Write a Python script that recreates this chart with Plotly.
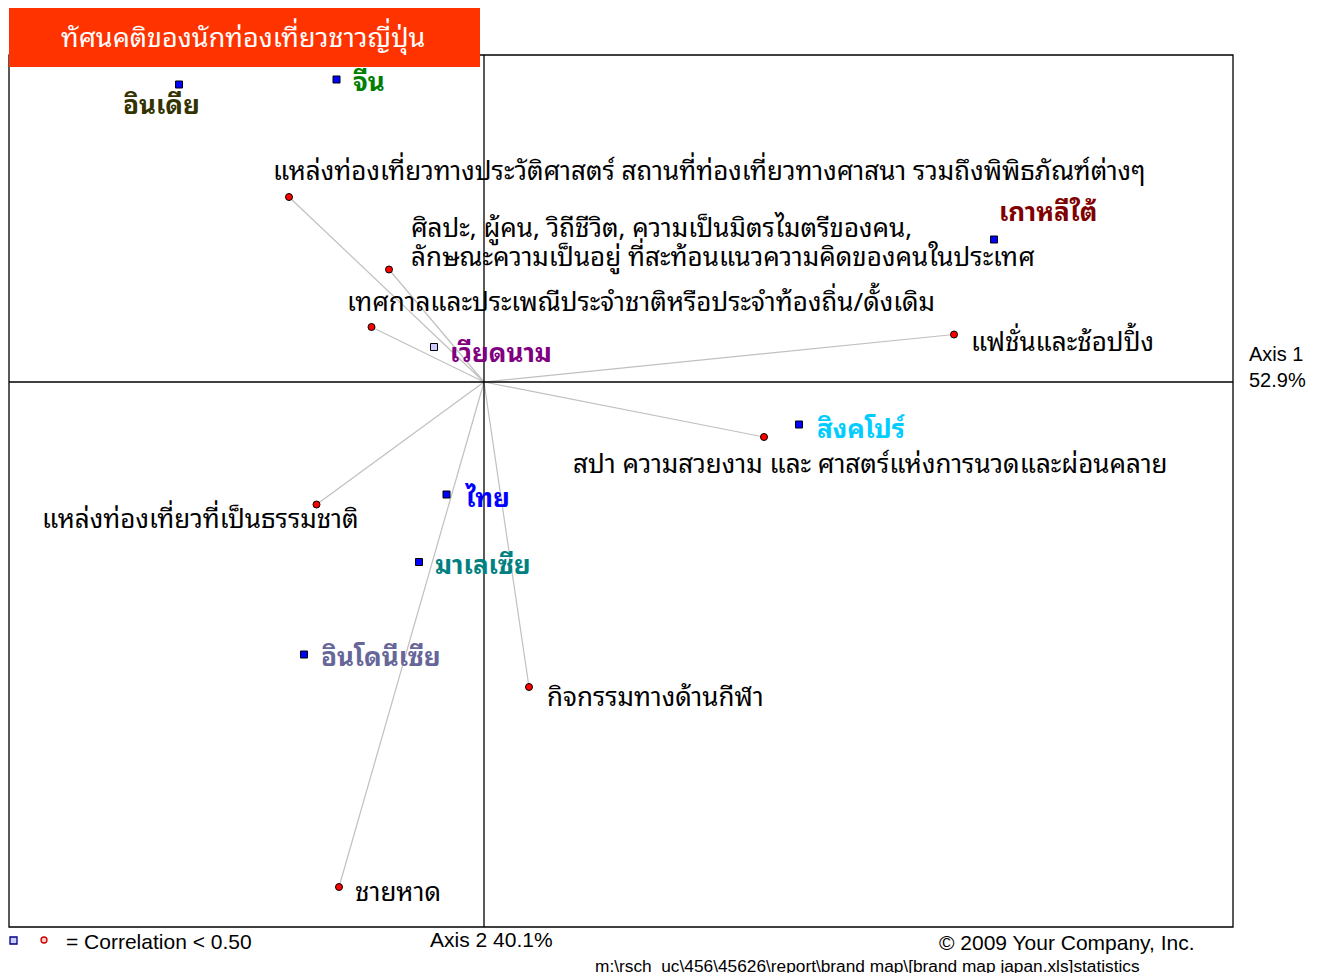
import plotly.graph_objects as go

# attributes (red dots), coordinates on the two axes
attr_names = [
    "แหล่งท่องเที่ยวทางประวัติศาสตร์ สถานที่ท่องเที่ยวทางศาสนา รวมถึงพิพิธภัณฑ์ต่างๆ",
    "ศิลปะ, ผู้คน, วิถีชีวิต, ความเป็นมิตรไมตรีของคน,<br>ลักษณะความเป็นอยู่ ที่สะท้อนแนวความคิดของคนในประเทศ",
    "เทศกาลและประเพณีประจำชาติหรือประจำท้องถิ่น/ดั้งเดิม",
    "แฟชั่นและช้อปปิ้ง",
    "สปา ความสวยงาม และ ศาสตร์แห่งการนวดและผ่อนคลาย",
    "แหล่งท่องเที่ยวที่เป็นธรรมชาติ",
    "กิจกรรมทางด้านกีฬา",
    "ชายหาด",
]
attr_x = [-0.78, -0.38, -0.45, 1.88, 1.12, -0.67, 0.18, -0.58]
attr_y = [0.74, 0.45, 0.22, 0.19, -0.22, -0.49, -1.22, -2.02]

# countries (blue squares)
country_names = ["อินเดีย", "จีน", "เกาหลีใต้", "เวียดนาม", "สิงคโปร์", "ไทย", "มาเลเซีย", "อินโดนีเซีย"]
country_x = [-1.22, -0.59, 2.04, -0.20, 1.26, -0.15, -0.26, -0.72]
country_y = [1.19, 1.21, 0.57, 0.14, -0.17, -0.45, -0.72, -1.09]
country_colors = ["#333300", "#008000", "#800000", "#800080", "#00CCFF", "#0000FF", "#008080", "#666699"]
country_weak = [False, False, False, True, False, False, False, False]

# label placement (pixels relative to the marker); multi-line labels get one offset per line
attr_lab = [("left", -18, [29]), ("left", 20, [45, 16]), ("left", -27, [28]), ("left", 15, [-4]),
            ("left", -193, [-24]), ("right", 44, [-11]), ("left", 16, [-7]), ("left", 14, [-2])]
country_lab = [("center", -18, -17), ("left", 14, 1), ("center", 54, 31), ("left", 14, -3),
               ("left", 16, -1), ("left", 15, 0), ("left", 14, 0), ("left", 15, 1)]

X_RANGE = [-1.9, 2.996]
Y_RANGE = [-2.18, 1.308]

FONT = "Tahoma, 'Noto Sans Thai Looped', Loma, Garuda, 'Noto Sans Thai', sans-serif"
ARIAL = "Arial, 'Liberation Sans', sans-serif"
OFF = 8  # page body margin
W, H = 1319 - OFF, 973 - OFF
L, R, T, B = 9, 1233, 55, 927


def px(x, y):
    return (x - L) / (R - L), (B - y) / (B - T)


fig = go.Figure()

# vectors from origin
for x, y in zip(attr_x, attr_y):
    fig.add_trace(go.Scatter(x=[0, x], y=[0, y], mode="lines",
                             line=dict(color="#c0c0c0", width=1.2),
                             hoverinfo="skip", showlegend=False))

fig.add_trace(go.Scatter(
    x=attr_x, y=attr_y, mode="markers", showlegend=False,
    marker=dict(symbol="circle", size=7, color="#ff0000", line=dict(color="#000000", width=1)),
    text=attr_names, hoverinfo="text"))

fig.add_trace(go.Scatter(
    x=country_x, y=country_y, mode="markers", showlegend=False,
    marker=dict(symbol="square", size=7,
                color=["#ccccff" if w else "#0000ff" for w in country_weak],
                line=dict(color="#000000", width=1)),
    text=country_names, hoverinfo="text"))

anns = []
for name, x, y, (anc, dx, dys) in zip(attr_names, attr_x, attr_y, attr_lab):
    for line, dy in zip(name.split("<br>"), dys):
        anns.append(dict(x=x, y=y, xref="x", yref="y", text=line, showarrow=False,
                         xanchor=anc, yanchor="middle", xshift=dx, yshift=dy, align="left",
                         font=dict(family=FONT, size=26, color="#000000")))
for name, x, y, c, (anc, dx, dy) in zip(country_names, country_x, country_y, country_colors, country_lab):
    anns.append(dict(x=x, y=y, xref="x", yref="y", text="<b>" + name + "</b>", showarrow=False,
                     xanchor=anc, yanchor="middle", xshift=dx, yshift=dy,
                     font=dict(family=FONT, size=26, color=c)))


def paper_text(text, x, y, anchor, size, family=ARIAL, color="#000"):
    xp, yp = px(x, y)
    anns.append(dict(x=xp, y=yp, xref="paper", yref="paper", text=text, showarrow=False,
                     xanchor=anchor, yanchor="middle", align="left",
                     font=dict(family=family, size=size, color=color)))


paper_text("Axis 1<br>52.9%", 1247, 367, "left", 20)
paper_text("Axis 2 40.1%", 428, 939, "left", 21)
paper_text("= Correlation &lt; 0.50", 64, 942, "left", 21)
paper_text("© 2009 Your Company, Inc.", 937, 943, "left", 21)
paper_text("m:\\rsch_uc\\456\\45626\\report\\brand map\\[brand map japan.xls]statistics", 593, 966, "left", 17.3)

shapes = [
    # axes through origin
    dict(type="line", xref="x", yref="paper", x0=0, x1=0, y0=0, y1=1, line=dict(color="#000", width=1.3)),
    dict(type="line", xref="paper", yref="y", x0=0, x1=1, y0=0, y1=0, line=dict(color="#000", width=1.3)),
    # frame
    dict(type="rect", xref="paper", yref="paper", x0=0, x1=1, y0=0, y1=1, line=dict(color="#000", width=1.3)),
]

# title banner
x0, y0 = px(9, 8)
x1, y1 = px(480, 67)
shapes.append(dict(type="rect", xref="paper", yref="paper", x0=x0, x1=x1, y0=y1, y1=y0,
                   fillcolor="#ff3300", line=dict(width=0), layer="above"))
paper_text("ทัศนคติของนักท่องเที่ยวชาวญี่ปุ่น", 243, 34, "center", 27, family=FONT, color="#ffffff")

# legend symbols below the frame
a0, b0 = px(10, 937)
a1, b1 = px(17, 944)
shapes.append(dict(type="rect", xref="paper", yref="paper", x0=a0, x1=a1, y0=b1, y1=b0,
                   fillcolor="#ccccff", line=dict(color="#000080", width=1.3)))
a0, b0 = px(41, 937)
a1, b1 = px(47, 943)
shapes.append(dict(type="circle", xref="paper", yref="paper", x0=a0, x1=a1, y0=b1, y1=b0,
                   fillcolor="#ffcccc", line=dict(color="#cc0000", width=1.3)))

fig.update_layout(
    width=W, height=H,
    margin=dict(l=L - OFF, r=W - (R - OFF), t=T - OFF, b=H - (B - OFF)),
    paper_bgcolor="#ffffff", plot_bgcolor="#ffffff",
    xaxis=dict(range=X_RANGE, visible=False, fixedrange=True),
    yaxis=dict(range=Y_RANGE, visible=False, fixedrange=True),
    shapes=shapes,
    annotations=anns,
    showlegend=False,
)

fig.write_html("out.html")
